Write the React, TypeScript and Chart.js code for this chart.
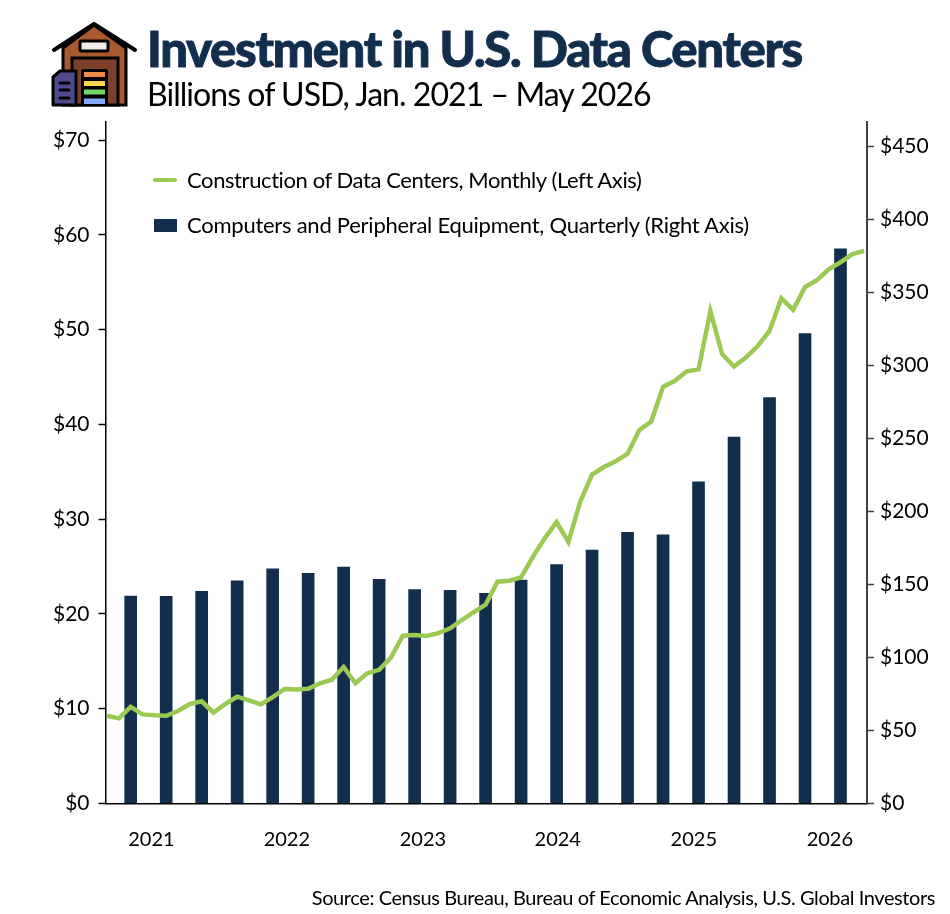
import { useEffect, useRef } from 'react';
import { Chart, registerables } from 'chart.js';

Chart.register(...registerables);

// month index 0 = Jan 2021, 64 = May 2026
const constructionMonthly = [
  9.26, 8.98, 10.2, 9.4, 9.3, 9.26, 9.76, 10.5, 10.78, 9.6, 10.5, 11.27,
  10.88, 10.46, 11.23, 12.08, 12.04, 12.1, 12.68, 13.06, 14.4, 12.68, 13.73, 14.1,
  15.4, 17.7, 17.77, 17.67, 17.98, 18.48, 19.36, 20.2, 20.97, 23.4, 23.5, 23.86,
  26.03, 27.97, 29.7, 27.6, 31.84, 34.7, 35.5, 36.1, 36.9, 39.4, 40.3, 43.97,
  44.6, 45.6, 45.8, 51.95, 47.4, 46.1, 47.05, 48.26, 49.85, 53.3, 52.1, 54.5,
  55.2, 56.35, 57.1, 57.97, 58.3,
];
// quarterly bars sit on the last month of each quarter
const equipmentMonths = [2, 5, 8, 11, 14, 17, 20, 23, 26, 29, 32, 35, 38, 41, 44, 47, 50, 53, 56, 59, 62];
const equipmentQuarterly = [
  142.1, 141.9, 145.3, 152.6, 160.8, 157.7, 162, 153.5, 146.5, 146, 144,
  153.1, 163.6, 173.6, 185.7, 184.1, 220.4, 251, 278, 321.8, 380,
];
const yearLabels = ['2021', '2022', '2023', '2024', '2025', '2026'];
const yearTicks = [3.75, 15.2, 26.7, 38.1, 49.6, 61.1];
const leftTicks = [0, 10, 20, 30, 40, 50, 60, 70];
const rightTicks = [0, 50, 100, 150, 200, 250, 300, 350, 400, 450];

const NAVY = '#132D4C';
const GREEN = '#9BC953';
const FONT = 'Lato, sans-serif';

function Icon() {
  return (
    <svg width="950" height="120" style={{ position: 'absolute', left: 0, top: 0 }} aria-hidden="true">
      <path d="M63 48 L94 25 L126 48 V105 H63 Z" fill="#A85A2E" stroke="#000" strokeWidth="3" />
      <path d="M54 50 L94 24 L135 50" fill="none" stroke="#000" strokeWidth="4" strokeLinecap="round" strokeLinejoin="round" />
      <rect x="80" y="41" width="28" height="10" rx="1.5" fill="#F1ECE6" stroke="#000" strokeWidth="3" />
      <rect x="72" y="58" width="46" height="47" fill="#7A4029" stroke="#000" strokeWidth="3" />
      <rect x="81" y="69" width="27" height="37" rx="2" fill="#000" />
      <rect x="84" y="72" width="21" height="5" fill="#F08A4B" />
      <rect x="84" y="81" width="21" height="5" fill="#FAD44F" />
      <rect x="84" y="89.5" width="21" height="5" fill="#74D66A" />
      <rect x="84" y="98.5" width="21" height="5.5" fill="#85A9F5" />
      <path d="M53 105 V77 L60 71 H76 V105 Z" fill="#4F4A8C" stroke="#000" strokeWidth="3" strokeLinejoin="round" />
      <path d="M60 83 H69 M60 90 H69 M60 98 H69" stroke="#000" strokeWidth="3" strokeLinecap="round" />
    </svg>
  );
}

const textStyle = { position: 'absolute', fontFamily: FONT, whiteSpace: 'nowrap', color: '#000', lineHeight: 1 } as const;

export default function App() {
  const canvasRef = useRef<HTMLCanvasElement>(null);

  useEffect(() => {
    if (!canvasRef.current) return;
    const chart = new Chart(canvasRef.current, {
      data: {
        datasets: [
          {
            type: 'line',
            label: 'Construction of Data Centers, Monthly (Left Axis)',
            data: constructionMonthly.map((y, x) => ({ x, y })),
            yAxisID: 'left',
            borderColor: GREEN,
            borderWidth: 4.5,
            pointRadius: 0,
            tension: 0,
            order: 1,
          },
          {
            type: 'bar',
            label: 'Computers and Peripheral Equipment, Quarterly (Right Axis)',
            data: equipmentQuarterly.map((y, i) => ({ x: equipmentMonths[i], y })),
            yAxisID: 'right',
            backgroundColor: NAVY,
            barThickness: 12,
            order: 2,
          },
        ],
      },
      options: {
        responsive: false,
        animation: false,
        layout: { padding: { top: 122, left: 0, right: 0, bottom: 0 } },
        plugins: { legend: { display: false }, tooltip: { enabled: false } },
        scales: {
          x: {
            type: 'linear',
            offset: false,
            min: -0.13,
            max: 64.24,
            afterBuildTicks: (scale: any) => {
              scale.ticks = yearTicks.map(value => ({ value }));
            },
            afterFit: (scale: any) => {
              scale.height = 110.5;
            },
            grid: { display: false, drawTicks: false },
            border: { color: '#000', width: 1.5 },
            ticks: {
              padding: 24,
              maxRotation: 0,
              autoSkip: false,
              color: '#000',
              font: { family: FONT, size: 20 },
              callback: (value: any) => yearLabels[yearTicks.indexOf(value)],
            },
          },
          left: {
            type: 'linear',
            position: 'left',
            min: 0,
            max: 71.9,
            afterBuildTicks: (scale: any) => {
              scale.ticks = leftTicks.map(value => ({ value }));
            },
            afterFit: (scale: any) => {
              scale.width = 105.5;
            },
            grid: { drawOnChartArea: false, tickLength: 7, tickColor: '#000', tickWidth: 1.5 },
            border: { color: '#000', width: 1.5 },
            ticks: {
              padding: 9,
              color: '#000',
              font: { family: FONT, size: 21 },
              callback: (value: any) => '$' + value,
            },
          },
          right: {
            type: 'linear',
            position: 'right',
            min: 0,
            max: 466.8,
            afterBuildTicks: (scale: any) => {
              scale.ticks = rightTicks.map(value => ({ value }));
            },
            afterFit: (scale: any) => {
              scale.width = 83;
            },
            grid: { drawOnChartArea: false, tickLength: 7, tickColor: '#404040', tickWidth: 1.5 },
            border: { color: '#404040', width: 2 },
            ticks: {
              padding: 6,
              color: '#000',
              font: { family: FONT, size: 21 },
              callback: (value: any) => '$' + value,
            },
          },
        },
      },
    });
    return () => chart.destroy();
  }, []);

  return (
    <div style={{ position: 'absolute', left: 0, top: 0, width: 950, height: 914, background: '#fff', overflow: 'hidden' }}>
      <canvas ref={canvasRef} width={950} height={914} style={{ position: 'absolute', left: 0, top: 0 }} />
      <Icon />
      <div style={{ ...textStyle, left: 147, top: 24, fontSize: 49, fontWeight: 900, letterSpacing: -1.3, color: NAVY, WebkitTextStroke: `0.9px ${NAVY}` }}>Investment in U.S. Data Centers</div>
      <div style={{ ...textStyle, left: 147, top: 78, fontSize: 32, letterSpacing: -0.95 }}>Billions of USD, Jan. 2021 – May 2026</div>
      <div style={{ position: 'absolute', left: 153, top: 178, width: 24, height: 4, borderRadius: 2, background: GREEN }} />
      <div style={{ ...textStyle, left: 187, top: 169, fontSize: 22, letterSpacing: -0.41 }}>Construction of Data Centers, Monthly (Left Axis)</div>
      <div style={{ position: 'absolute', left: 154, top: 219, width: 23, height: 13, background: NAVY }} />
      <div style={{ ...textStyle, left: 187, top: 214, fontSize: 22, letterSpacing: -0.25 }}>Computers and Peripheral Equipment, Quarterly (Right Axis)</div>
      <div style={{ ...textStyle, right: 15, top: 887, fontSize: 20, letterSpacing: -0.41 }}>Source: Census Bureau, Bureau of Economic Analysis, U.S. Global Investors</div>
    </div>
  );
}
